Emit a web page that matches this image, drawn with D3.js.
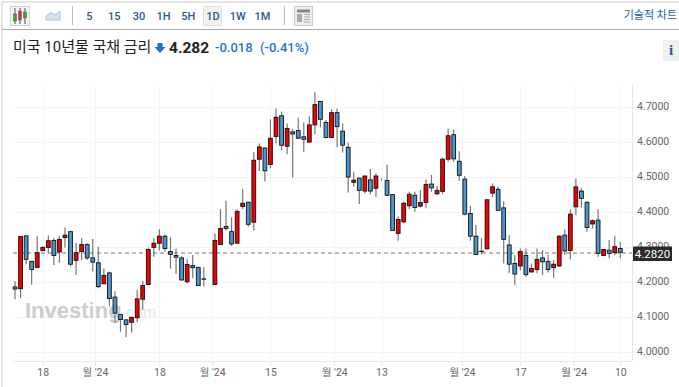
<!DOCTYPE html>
<html>
<head>
<meta charset="utf-8">
<script src="https://cdn.jsdelivr.net/npm/d3@7"></script>
<style>
  html, body { margin: 0; padding: 0; background: #fff; overflow: hidden; }
  text { font-family: Roboto, "Noto Sans CJK KR", sans-serif; }
</style>
</head>
<body>
<div id="chart"></div>
<script>
// Candle values
const opens = [4.185,4.180,4.331,4.258,4.241,4.289,4.298,4.318,4.285,4.326,
  4.343,4.261,4.286,4.306,4.268,4.254,4.194,4.225,4.156,4.106,
  4.091,4.084,4.097,4.150,4.192,4.298,4.310,4.330,4.286,4.275,
  4.268,4.200,4.246,4.241,4.208,4.213,4.192,4.306,4.358,4.343,
  4.310,4.415,4.427,4.370,4.550,4.582,4.535,4.615,4.674,4.587,
  4.628,4.632,4.614,4.599,4.648,4.715,4.655,4.612,4.683,4.630,
  4.584,4.484,4.496,4.459,4.491,4.467,4.492,4.489,4.449,4.338,
  4.371,4.417,4.447,4.416,4.426,4.479,4.451,4.458,4.550,4.620,
  4.544,4.493,4.395,4.330,4.287,4.294,4.453,4.464,4.411,4.305,
  4.252,4.245,4.275,4.228,4.235,4.268,4.258,4.240,4.245,4.333,
  4.289,4.414,4.459,4.427,4.365,4.376,4.275,4.290,4.283,4.295];
const closes = [4.179,4.329,4.264,4.235,4.283,4.298,4.317,4.275,4.321,4.333,
  4.250,4.283,4.306,4.268,4.256,4.186,4.218,4.152,4.110,4.092,
  4.078,4.098,4.151,4.189,4.292,4.310,4.330,4.295,4.278,4.270,
  4.205,4.249,4.240,4.189,4.207,4.213,4.318,4.352,4.352,4.308,
  4.401,4.424,4.364,4.547,4.585,4.517,4.610,4.670,4.590,4.638,
  4.622,4.610,4.607,4.648,4.706,4.664,4.612,4.683,4.643,4.590,
  4.499,4.490,4.461,4.502,4.459,4.502,4.492,4.447,4.346,4.378,
  4.424,4.450,4.412,4.426,4.478,4.468,4.461,4.550,4.617,4.551,
  4.504,4.393,4.330,4.278,4.286,4.434,4.471,4.404,4.321,4.250,
  4.222,4.286,4.220,4.238,4.264,4.257,4.235,4.250,4.330,4.288,
  4.393,4.471,4.438,4.355,4.374,4.281,4.292,4.281,4.300,4.284];
const highs = [4.202,4.330,4.333,4.260,4.331,4.302,4.333,4.324,4.330,4.355,
  4.346,4.311,4.324,4.310,4.322,4.300,4.238,4.229,4.173,4.108,
  4.093,4.100,4.176,4.202,4.298,4.324,4.350,4.335,4.327,4.295,
  4.273,4.264,4.276,4.243,4.241,4.213,4.338,4.407,4.431,4.384,
  4.407,4.465,4.429,4.570,4.595,4.583,4.664,4.695,4.686,4.652,
  4.636,4.669,4.655,4.673,4.741,4.717,4.662,4.693,4.695,4.652,
  4.598,4.514,4.497,4.503,4.522,4.510,4.495,4.535,4.450,4.386,
  4.429,4.457,4.457,4.462,4.492,4.505,4.474,4.555,4.638,4.635,
  4.573,4.502,4.416,4.362,4.324,4.435,4.481,4.471,4.430,4.333,
  4.276,4.295,4.295,4.252,4.295,4.290,4.276,4.262,4.333,4.350,
  4.407,4.495,4.467,4.429,4.378,4.407,4.293,4.319,4.331,4.314];
const lows = [4.150,4.154,4.250,4.191,4.240,4.286,4.283,4.248,4.254,4.298,
  4.243,4.219,4.262,4.262,4.229,4.181,4.193,4.129,4.083,4.057,
  4.041,4.054,4.084,4.119,4.190,4.271,4.289,4.286,4.237,4.222,
  4.203,4.195,4.210,4.188,4.186,4.213,4.191,4.305,4.346,4.302,
  4.308,4.408,4.357,4.346,4.516,4.486,4.524,4.595,4.576,4.564,
  4.498,4.608,4.571,4.598,4.621,4.641,4.610,4.610,4.584,4.569,
  4.455,4.471,4.422,4.452,4.450,4.443,4.489,4.446,4.345,4.317,
  4.367,4.408,4.400,4.412,4.410,4.457,4.448,4.450,4.543,4.543,
  4.488,4.390,4.317,4.278,4.278,4.292,4.441,4.403,4.252,4.224,
  4.190,4.233,4.214,4.226,4.224,4.219,4.226,4.211,4.243,4.276,
  4.264,4.390,4.412,4.343,4.352,4.271,4.273,4.267,4.276,4.267];

const priceTicks = [4.0, 4.1, 4.2, 4.3, 4.4, 4.5, 4.6, 4.7];
const dateTicks = [5, 14.4, 26, 35.5, 46, 57.5, 66, 80.5, 91, 100.6, 109];
const dateLabels = ["18", "월 '24", "18", "월 '24", "15", "월 '24", "13", "월 '24", "17", "월 '24", "10"];
const lastPrice = 4.282;
const intervals = ["5", "15", "30", "1H", "5H", "1D", "1W", "1M"];

const width = 679, height = 387;
const plot = { left: 13, right: 632, top: 85, bottom: 361 };

const svg = d3.select("#chart").append("svg")
    .attr("width", width)
    .attr("height", height)
    .style("display", "block");

// Scales
const x = d3.scaleLinear().domain([0, 109]).range([15, 620.3]);
const y = d3.scaleLinear().domain([4.0, 4.7]).range([351.7, 106.7]);

// Outer frame and toolbar
svg.append("rect").attr("x", 2).attr("y", 2).attr("width", 680).attr("height", 400)
    .attr("fill", "none").attr("stroke", "#ddd").attr("stroke-width", 1.5);
svg.append("line").attr("x1", 2).attr("x2", width).attr("y1", 29.5).attr("y2", 29.5)
    .attr("stroke", "#aaa").attr("stroke-width", 1.2);

// Candle button
const icon = svg.append("g");
icon.append("rect").attr("x", 10.5).attr("y", 6.5).attr("width", 19).attr("height", 19)
    .attr("fill", "#f3f3f3").attr("stroke", "#d0d0d0");
[[15, "#4a9a3c", 14, 21], [20, "#e03030", 11, 20], [25, "#4a9a3c", 12, 18]].forEach(d => {
    icon.append("line").attr("x1", d[0]).attr("x2", d[0]).attr("y1", 8).attr("y2", 24).attr("stroke", "#555");
    icon.append("rect").attr("x", d[0] - 1.5).attr("y", d[2]).attr("width", 3).attr("height", d[3] - d[2])
        .attr("fill", d[1]).attr("stroke", "#555").attr("stroke-width", 0.5);
});

// Area button
svg.append("path").attr("d", "M46,20 L46,16 L51,12.5 L55,15 L60,11 L60,20 Z")
    .attr("fill", "#d5e2f0").attr("stroke", "#a9c3de");

svg.selectAll(".sep").data([72.5, 284.5]).enter().append("line")
    .attr("x1", d => d).attr("x2", d => d).attr("y1", 6).attr("y2", 25)
    .attr("stroke", "#bbb");

// Selected interval box
svg.append("rect").attr("x", 203.5).attr("y", 6.5).attr("width", 18).attr("height", 19).attr("rx", 1)
    .attr("fill", "#f1f1f1").attr("stroke", "#ddd");

const intervalX = d3.scalePoint().domain(intervals).range([89.5, 262.5]);
svg.selectAll(".interval").data(intervals).enter().append("text")
    .attr("x", d => intervalX(d))
    .attr("y", 19.5)
    .attr("text-anchor", "middle")
    .style("font-size", "11px")
    .style("font-weight", "500")
    .style("fill", "#2a5a8c")
    .text(d => d);

// News button
const news = svg.append("g");
news.append("rect").attr("x", 294.5).attr("y", 6.5).attr("width", 18).attr("height", 19)
    .attr("fill", "#eee").attr("stroke", "#ccc");
news.append("rect").attr("x", 297).attr("y", 9.5).attr("width", 13).attr("height", 3).attr("fill", "#888");
news.append("rect").attr("x", 297).attr("y", 14).attr("width", 5).attr("height", 8).attr("fill", "#aaa");
[14.5, 17, 19.5, 22].forEach(d => news.append("line")
    .attr("x1", 304).attr("x2", 310).attr("y1", d).attr("y2", d).attr("stroke", "#aaa"));

svg.append("text").attr("x", 677).attr("y", 18.5).attr("text-anchor", "end")
    .style("font-size", "11px").style("fill", "#1f5f9f").text("기술적 차트");

// Title row
svg.append("text").attr("x", 13).attr("y", 52)
    .style("font-size", "15px").style("fill", "#222").text("미국 10년물 국채 금리");
svg.append("path").attr("d", "M157.5,43 h5 v4 h3 l-5.5,6 l-5.5,-6 h3 Z").attr("fill", "#1f6fd0");
svg.append("text").attr("x", 169).attr("y", 53)
    .style("font-size", "15.5px").style("font-weight", "700").style("fill", "#222").text("4.282");
svg.append("text").attr("x", 215).attr("y", 52)
    .style("font-size", "13px").style("font-weight", "500").style("fill", "#2a72d5").text("-0.018");
svg.append("text").attr("x", 260).attr("y", 52)
    .style("font-size", "13px").style("font-weight", "500").style("fill", "#2a72d5").text("(-0.41%)");

// Info button
svg.append("rect").attr("x", 663).attr("y", 40).attr("width", 16).attr("height", 21).attr("fill", "#f0f0f0");
svg.append("text").attr("x", 671).attr("y", 55).attr("text-anchor", "middle")
    .style("font-family", "'Liberation Serif', serif").style("font-size", "15px").style("font-weight", "700")
    .style("fill", "#1f5f9f").text("i");

// Grid
svg.append("g").selectAll("line").data(priceTicks).enter().append("line")
    .attr("x1", plot.left).attr("x2", plot.right)
    .attr("y1", d => Math.round(y(d)) + 0.5).attr("y2", d => Math.round(y(d)) + 0.5)
    .attr("stroke", "#f4f4f6");
svg.append("g").selectAll("line").data(dateTicks).enter().append("line")
    .attr("x1", d => Math.round(x(d)) + 0.5).attr("x2", d => Math.round(x(d)) + 0.5)
    .attr("y1", plot.top).attr("y2", plot.bottom)
    .attr("stroke", "#f4f4f6");

// Watermark
const mark = svg.append("text").attr("x", 25).attr("y", 318);
mark.append("tspan").style("font-family", "'Liberation Sans', sans-serif")
    .style("font-size", "22px").style("font-weight", "700").style("fill", "#cdcdcd").text("Investing");
mark.append("tspan").style("font-family", "'Liberation Sans', sans-serif")
    .style("font-size", "16px").style("font-weight", "400").style("fill", "#e6e6e6").text(".com");

// Y axis
const yAxis = svg.append("g")
    .attr("transform", `translate(${plot.right},0)`)
    .call(d3.axisRight(y).tickValues(priceTicks).tickFormat(d3.format(".4f")).tickSize(0).tickPadding(5));
yAxis.select(".domain").attr("stroke", "#e6e8f0").attr("d", `M0.5,${plot.top}V${plot.bottom}`);
yAxis.selectAll("text").attr("y", -1).style("font-size", "10.5px").style("fill", "#666");

// X axis
const xAxis = svg.append("g")
    .attr("transform", `translate(0,${plot.bottom})`)
    .call(d3.axisBottom(x).tickValues(dateTicks).tickFormat((d, i) => dateLabels[i]).tickSize(5).tickPadding(3));
xAxis.select(".domain").attr("stroke", "#e6e8f0").attr("d", `M${plot.left},0.5H${plot.right}`);
xAxis.selectAll(".tick line").attr("stroke", "#e6e8f0");
xAxis.selectAll("text").style("font-size", "10.5px").style("fill", "#666");

// Last price line
svg.append("line")
    .attr("x1", plot.left).attr("x2", plot.right)
    .attr("y1", y(lastPrice)).attr("y2", y(lastPrice))
    .attr("stroke", "#777").attr("stroke-width", 1.2).attr("stroke-dasharray", "4,3");

// Candles
const candles = svg.append("g").selectAll("g").data(opens).enter().append("g");
candles.append("line")
    .attr("x1", (d, i) => x(i)).attr("x2", (d, i) => x(i))
    .attr("y1", (d, i) => y(highs[i])).attr("y2", (d, i) => y(lows[i]))
    .attr("stroke", "#777").attr("stroke-width", 1.2);
candles.append("rect")
    .attr("x", (d, i) => x(i) - 1.9)
    .attr("width", 3.8)
    .attr("y", (d, i) => y(Math.max(opens[i], closes[i])))
    .attr("height", (d, i) => Math.abs(y(opens[i]) - y(closes[i])))
    .attr("fill", (d, i) => closes[i] >= opens[i] ? "#f00000" : "#4a94cf")
    .attr("stroke", "#111")
    .attr("stroke-width", 0.9);

// Last price label
svg.append("rect").attr("x", 633).attr("y", y(lastPrice) - 6.5).attr("width", 39).attr("height", 14.5)
    .attr("fill", "#2a2a2a");
svg.append("text").attr("x", 652.5).attr("y", y(lastPrice) + 4.5).attr("text-anchor", "middle")
    .style("font-size", "11.5px").style("font-weight", "400").style("fill", "#fff")
    .text(d3.format(".4f")(lastPrice));
</script>
</body>
</html>
